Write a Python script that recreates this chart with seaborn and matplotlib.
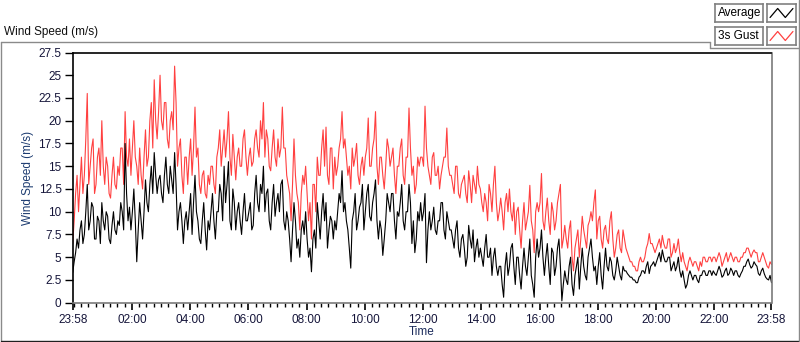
import numpy as np
import pandas as pd
import matplotlib
matplotlib.use("Agg")
import matplotlib.pyplot as plt
import matplotlib.dates as mdates
import seaborn as sns
from matplotlib.lines import Line2D

# 3-minute samples, one row per hour (23:58 -> 23:58 next day)
gust = [
    6.5, 9, 12, 14, 10, 13, 16, 12, 14, 18, 23, 13, 15, 17, 18, 12, 13, 16, 17, 14,
    20, 15, 13, 16, 15, 12, 11.5, 14, 16, 13, 12.5, 15, 14, 17, 17, 13, 21, 16, 15, 18,
    14, 17, 20, 16, 15, 13, 17, 14, 12.5, 16, 19, 15, 16, 20, 22, 17, 24.5, 20, 18, 21,
    25, 20, 19, 22, 22, 18, 17, 20, 21, 19, 26, 22, 15, 17, 18, 14, 12, 16, 16, 13,
    16, 18, 14, 17, 21.5, 16, 17, 13, 12, 14, 14.5, 12, 11.5, 14, 13, 15, 15, 13, 12, 16,
    17, 19, 15, 17, 19, 16, 18, 21, 16, 14, 18.5, 16, 13.5, 16, 17, 15, 15, 18, 19, 16,
    14, 16, 17, 15, 15.5, 18, 19, 17, 16, 20, 18, 22, 16, 19, 18, 15, 14.5, 17, 19, 16,
    15, 18, 16, 17, 21.5, 17, 17, 14, 13, 12, 9, 13, 18, 14, 12, 11, 8, 12, 14, 13,
    15, 12, 9, 11, 7, 13, 13, 10, 16, 14, 14, 17, 19, 15, 19.3, 14, 13, 17, 17, 12.5,
    16, 14, 15, 17, 18, 21, 17, 18, 16, 14, 15, 12.5, 17, 15, 16, 17.5, 14, 13, 15, 16,
    14, 16, 17, 20.3, 15, 15, 17, 18, 21, 15, 13, 16, 16, 14, 12.5, 15, 18, 17, 15, 16,
    17, 14, 12, 15, 15, 17, 18, 14, 13, 16, 16, 21.4, 17, 14, 15, 12, 13, 16, 15, 16,
    16, 15, 21.6, 17, 15, 14, 13, 16, 16.5, 14, 14, 15, 12.5, 14, 15, 16, 16, 19.2, 15, 14,
    14, 13, 12, 15, 15, 12, 11.5, 13, 13.5, 14, 12, 11, 14.5, 13, 11, 14, 13, 12, 15, 13,
    12.5, 11, 10, 12, 11, 9, 13, 12, 10, 13, 15, 11, 9, 10, 11.5, 10, 8, 11, 12, 10,
    12.5, 10, 9, 11, 7.5, 10, 10.5, 8, 6, 9, 11, 8, 9, 10, 12.9, 9, 8, 5.5, 10, 11,
    10, 11, 14.2, 9, 8, 10, 11.5, 9, 7.5, 11, 10, 8, 9, 11, 12, 13, 6, 7, 8.5, 7,
    6, 8, 9, 5, 3.5, 6, 7, 8, 5, 7, 9.5, 8, 7, 6, 8.5, 9, 10, 9, 11, 12.4,
    7, 9, 9.5, 7, 6, 8, 8.5, 7, 6.5, 9, 10, 7, 5, 6, 7.5, 8, 6, 5.5, 8, 7,
    6, 5.5, 5, 4.5, 4.5, 4, 4, 3.5, 3.5, 4.5, 5, 4.5, 4.5, 5, 6, 6.5, 7.6, 6.5, 6.5, 6,
    5.5, 6, 6.5, 7, 6, 7.4, 6.5, 6, 6, 7, 7, 5, 5.5, 6.5, 5.5, 6, 7, 5.5, 4.5, 5.5,
    4.5, 4, 3.5, 4.5, 5, 4.5, 4, 4.5, 4.5, 4, 3.5, 4.5, 4, 5, 5, 4.5, 4.5, 5, 5, 4.5,
    5, 5, 4.5, 5, 5.5, 5, 4, 4.5, 5, 5.5, 4.5, 5, 5.5, 5, 4.5, 5, 5, 4.5, 4.5, 5,
    5, 5.5, 5.5, 6, 6, 5.5, 5, 5.5, 5.8, 5.5, 5.5, 4.5, 4.5, 5, 5.5, 5, 4.5, 4, 3.8, 4.5,
    4.2,
]
average = [
    3.3, 4.5, 5.5, 7, 6, 8, 9, 6.5, 7.5, 10, 13, 8, 9, 11, 10.5, 7, 7, 9.5, 9, 6.5,
    11, 9, 8, 10, 9.5, 7, 6.5, 8.5, 10, 8, 7.5, 9, 8.5, 11, 10, 8, 17.5, 12, 9, 10.5,
    8, 10, 12.5, 9, 4.5, 8, 11, 9, 7, 10, 13.5, 11, 10, 13, 15, 12, 16.5, 14, 12, 13.5,
    14, 12, 11, 14, 16, 13, 12, 15, 13.5, 12, 16.5, 13, 8, 10, 11, 9, 6.5, 9, 10, 8,
    10, 12, 7.5, 11, 14, 10, 9, 7, 6.5, 9, 11, 8, 5.8, 9, 8, 10, 12, 9, 7, 10,
    10, 13, 12, 9, 15, 11, 13, 15.5, 9, 8, 12.5, 11, 8, 10, 11, 9, 7.5, 10, 12, 9,
    9, 10, 11, 8, 8.5, 12, 14, 11, 10, 13, 12, 15, 10, 12, 12.5, 9, 8, 11, 13, 9.5,
    11, 12, 10, 13, 13.5, 9, 8, 10, 9, 7, 4.5, 8, 11, 9, 6, 7, 5, 8, 9, 7.5,
    10, 7, 5, 6, 3.4, 7, 8, 6, 11, 9, 7, 10, 12, 9, 11, 6, 8, 9.5, 9, 7,
    9, 8, 10, 12, 11, 14.5, 10, 11, 9, 8, 6, 3.8, 9, 10, 12, 8, 9, 10.5, 11, 13,
    8, 10, 12, 13, 9.5, 9, 11, 12, 13.5, 9, 7, 9, 8, 5.2, 7, 9, 12, 11, 10, 12,
    12, 9, 7, 10, 9.5, 11, 13, 9, 8, 10, 10, 13, 11, 6.5, 9, 5.5, 7, 10, 9, 11,
    9, 10, 12, 4.4, 8, 10, 8, 9, 10.5, 8, 7.5, 9, 9, 11, 11, 8, 7, 10, 9, 8,
    8, 7, 6, 8, 9, 6, 5, 7, 7.5, 6, 4, 5, 8.5, 7, 6, 8, 4.5, 6, 7, 5,
    6, 5, 4, 6, 7.5, 5, 5, 6, 3, 5, 6, 4, 3, 4, 4, 2, 0.6, 4, 5.5, 3,
    4, 6, 6.5, 4, 2, 5, 5, 3, 1.5, 4, 6, 4, 3, 5, 7, 3, 2, 0.6, 5, 7,
    5, 6, 8, 5, 3, 5, 6.5, 4, 2, 6, 5.5, 3, 4, 6, 7, 4, 0.2, 2, 3.5, 2.5,
    2, 4, 5, 2, 0.8, 3, 4, 5, 1.5, 4, 6, 4, 3, 2.5, 5, 6, 7, 5, 3.5, 4,
    2, 4, 5.5, 3, 1.5, 4, 6, 4, 3.5, 5, 4.5, 3, 2.5, 3.5, 5, 4, 3, 2.5, 4, 3.5,
    3.5, 3.2, 3, 2.8, 2.8, 2.5, 2.5, 2.2, 2.2, 2.8, 3, 3.5, 3.5, 3.2, 4, 4.5, 3.2, 4, 4.2, 4.5,
    4, 4.5, 5, 5.5, 4.5, 5.8, 5, 4.5, 4.5, 5, 5, 3.5, 4, 4.5, 3.5, 4, 5, 3.5, 2.8, 3.5,
    2.5, 1.6, 2, 3, 3.5, 3, 2.5, 3, 3, 2.5, 2.2, 3, 3, 3.5, 3.5, 3, 3, 3.5, 3.5, 3,
    3.5, 3.2, 3, 3.5, 4, 3.5, 2.8, 3, 3.5, 3.8, 3, 3.2, 3.8, 3.5, 3, 3.5, 3.5, 3, 2.8, 3.2,
    3.5, 4, 4, 4.5, 4.8, 4.2, 3.8, 4, 4.5, 4.2, 4, 3.2, 3, 3.5, 3.8, 3.2, 2.8, 2.6, 2.5, 3,
    2.2,
]
x_tick_labels = ["23:58", "02:00", "04:00", "06:00", "08:00", "10:00", "12:00",
                 "14:00", "16:00", "18:00", "20:00", "22:00", "23:58"]
y_ticks = [0, 2.5, 5, 7.5, 10, 12.5, 15, 17.5, 20, 22.5, 25, 27.5]
series_names = ["Average", "3s Gust"]
series_colors = ["black", "#ff4040"]

times = pd.date_range("2020-01-01 23:58", periods=len(gust), freq="3min")
df = pd.DataFrame({"Time": times, "Average": average, "3s Gust": gust})

sns.set_style("white")
plt.rcParams["font.family"] = ["Liberation Sans", "DejaVu Sans"]
plt.rcParams["font.size"] = 8.5

W, H = 800, 342
fig = plt.figure(figsize=(W / 100, H / 100), dpi=100)


def fx(px):
    return px / W


def fy(py):
    return 1 - py / H


ax = fig.add_axes([fx(72.7), fy(302.7), fx(771.5) - fx(72.7), fy(52.5) - fy(302.7)])
sns.lineplot(data=df, x="Time", y="3s Gust", color=series_colors[1], lw=0.8, ax=ax)
sns.lineplot(data=df, x="Time", y="Average", color=series_colors[0], lw=0.8, ax=ax)

ax.set_xlim(times[0], times[-1])
ax.set_ylim(0, 27.5)
ax.set_yticks(y_ticks)
ax.set_yticklabels(["%g" % v for v in y_ticks])

day2 = pd.Timestamp("2020-01-02")
tick_times = [times[0]] + [day2 + pd.Timedelta(hours=int(s[:2])) for s in x_tick_labels[1:-1]] + [times[-1]]
ax.set_xticks(tick_times)
ax.set_xticklabels(x_tick_labels)
ax.xaxis.set_minor_locator(mdates.MinuteLocator(byminute=[0, 15, 30, 45]))

ax.tick_params(axis="x", which="major", length=5, width=1.2, pad=3, colors="black", labelcolor="#15153a", labelsize=8.5)
ax.tick_params(axis="x", which="minor", length=3, width=1, colors="black")
ax.tick_params(axis="y", length=6, width=1, pad=2, colors="black", labelcolor="#15153a", labelsize=8.5)
ax.tick_params(bottom=True, left=True, which="both")

ax.set_xlabel("Time", color="#1c2c5c", fontsize=8.5, labelpad=0)
ax.set_ylabel("Wind Speed (m/s)", color="#1c3b70", fontsize=8.5, labelpad=3)

ax.spines["top"].set_color("black")
ax.spines["left"].set_color("black")
ax.spines["bottom"].set_color("#7a7a7a")
ax.spines["right"].set_color("#7a7a7a")
for s in ax.spines.values():
    s.set_linewidth(1.2)

# panel frame
def fline(x0, y0, x1, y1, c, lw=1):
    fig.add_artist(Line2D([fx(x0), fx(x1)], [fy(y0), fy(y1)], color=c, lw=lw))

fline(0.5, 42, 710, 42, "#8a8a8a")
fline(710, 42, 710, 48, "#8a8a8a")
fline(710, 48, 799, 48, "#8a8a8a")
fline(0.5, 42, 0.5, 340.5, "#8a8a8a")
fline(0.5, 340.5, 799, 340.5, "#202020")
fline(799, 0, 799, 340.5, "#8a8a8a")

fig.text(fx(4), fy(32), "Wind Speed (m/s)", fontsize=8.5, color="#101010", va="center", ha="left")

# legend boxes
for i, (name, col) in enumerate(zip(series_names, series_colors)):
    top = 4 + i * 23
    lab = fig.add_axes([fx(715), fy(top + 18), fx(763) - fx(715), fy(top) - fy(top + 18)])
    lab.set_xticks([]); lab.set_yticks([])
    for s in lab.spines.values():
        s.set_color("#808080")
        s.set_linewidth(1.2)
    lab.text(0.06, 0.5, name, transform=lab.transAxes, va="center", ha="left", fontsize=8.5, color="black")
    sw = fig.add_axes([fx(767), fy(top + 18), fx(796) - fx(767), fy(top) - fy(top + 18)])
    sw.set_xticks([]); sw.set_yticks([])
    for s in sw.spines.values():
        s.set_color("#808080")
        s.set_linewidth(1.2)
    sw.plot([0, 1, 2, 3], [0, 1, 0, 1], color=col, lw=0.9)
    sw.set_xlim(-0.4, 3.4)
    sw.set_ylim(-0.5, 1.5)

fig.savefig("out.png", dpi=100)
